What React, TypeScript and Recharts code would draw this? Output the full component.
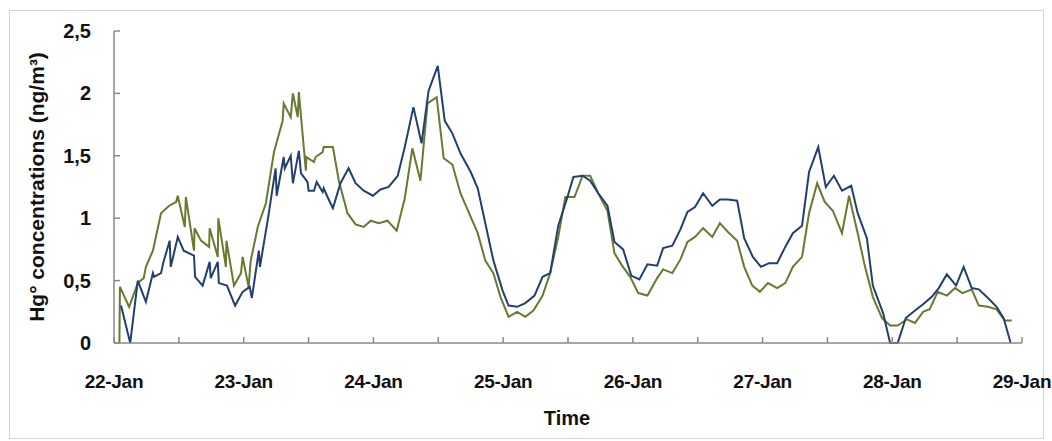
import { LineChart, Line, XAxis, YAxis } from "recharts";

// hours counted from 22-Jan 00:00
const HOUR_TICKS = [0, 12, 24, 36, 48, 60, 72, 84, 96, 108, 120, 132, 144, 156, 168];
const DAY_LABELS = ["22-Jan", "23-Jan", "24-Jan", "25-Jan", "26-Jan", "27-Jan", "28-Jan", "29-Jan"];
const Y_TICKS = [0, 0.5, 1, 1.5, 2, 2.5];

const greenHours = [
  1.0, 1.1, 2.8, 4.4, 5.5, 5.9, 7.2, 8.7, 10.2, 11.5, 11.8, 13.1, 13.3, 14.8, 14.9, 16.1,
  17.6, 17.7, 19.2, 19.3, 20.7, 20.8, 22.2, 23.5, 23.8, 24.9, 25.3, 26.6, 28.1, 29.6, 31.2,
  31.4, 32.7, 33.1, 34.0, 34.2, 35.5, 35.6, 37.0, 37.3, 38.6, 38.8, 40.5, 41.6, 43.2, 44.7,
  46.2, 47.5, 49.0, 50.6, 52.3, 53.8, 55.2, 56.7, 58.0, 59.7, 61.0, 62.6, 64.1, 66.0, 67.3,
  68.7, 70.2, 71.5, 73.0, 74.6, 76.1, 77.6, 79.3, 80.7, 82.2, 83.5, 85.2, 86.7, 88.1, 89.6,
  91.3, 92.6, 94.0, 95.5, 97.0, 98.7, 100.5, 101.6, 103.3, 104.8, 106.1, 107.5, 109.0, 110.7,
  112.1, 113.6, 115.3, 116.6, 118.1, 119.5, 121.0, 122.7, 124.2, 125.6, 127.3, 128.6, 130.1,
  131.5, 133.0, 134.7, 136.0, 137.6, 138.9, 140.4, 142.1, 143.6, 145.0, 146.7, 148.2, 149.7,
  150.9, 152.4, 154.1, 155.6, 157.0, 158.7, 160.0, 161.7, 163.3, 164.8, 166.1,
];
const greenValues = [
  0, 0.45, 0.29, 0.48, 0.52, 0.61, 0.74, 1.04, 1.1, 1.13, 1.18, 0.93, 1.17, 0.74, 0.92, 0.82,
  0.77, 0.92, 0.69, 1.0, 0.61, 0.82, 0.46, 0.56, 0.69, 0.45, 0.66, 0.93, 1.12, 1.53, 1.78,
  1.92, 1.81, 2.0, 1.81, 2.01, 1.38, 1.49, 1.45, 1.49, 1.53, 1.57, 1.57, 1.3, 1.04, 0.95,
  0.93, 0.98, 0.96, 0.98, 0.9, 1.16, 1.56, 1.3, 1.92, 1.97, 1.48, 1.43, 1.2, 1.01, 0.88,
  0.66, 0.56, 0.37, 0.21, 0.25, 0.21, 0.26, 0.38, 0.56, 0.85, 1.17, 1.17, 1.34, 1.34, 1.2,
  1.06, 0.72, 0.62, 0.53, 0.4, 0.38, 0.52, 0.59, 0.56, 0.67, 0.81, 0.85, 0.92, 0.85,
  0.96, 0.89, 0.82, 0.61, 0.46, 0.41, 0.48, 0.44, 0.48, 0.61, 0.69, 1.04, 1.28,
  1.13, 1.06, 0.88, 1.18, 0.88, 0.62, 0.37, 0.2, 0.14, 0.14, 0.19, 0.16, 0.25,
  0.27, 0.41, 0.38, 0.44, 0.4, 0.43, 0.3, 0.29, 0.27, 0.18, 0.18,
];

const blueHours = [
  1.3, 3.0, 4.4, 5.9, 7.2, 7.4, 8.7, 9.1, 10.3, 10.5, 11.8, 12.9, 14.8, 15.0, 16.4, 17.7,
  17.9, 19.2, 19.4, 20.9, 22.4, 23.8, 25.1, 25.5, 26.8, 27.0, 28.5, 29.9, 30.1, 31.4, 31.6,
  32.7, 33.1, 34.2, 34.6, 35.8, 36.0, 37.0, 37.5, 38.6, 38.8, 39.4, 40.5, 41.9, 43.4, 44.7,
  46.2, 47.9, 49.3, 50.8, 52.5, 53.8, 55.4, 56.9, 58.2, 59.9, 61.2, 62.6, 64.1, 66.0, 67.3,
  68.7, 70.2, 71.9, 73.0, 74.6, 76.1, 77.8, 79.3, 80.7, 82.2, 83.9, 85.0, 86.7, 88.1, 89.6,
  91.3, 92.6, 94.2, 95.7, 97.2, 98.7, 100.5, 101.6, 103.3, 104.8, 106.1, 107.5, 109.0, 110.7,
  112.1, 113.6, 115.3, 116.6, 118.2, 119.7, 121.2, 122.7, 124.2, 125.6, 127.3, 128.6, 130.3,
  131.7, 133.2, 134.7, 136.4, 137.6, 139.3, 140.4, 142.3, 143.6, 145.0, 146.5, 148.2, 149.7,
  151.3, 152.6, 154.1, 155.8, 157.2, 158.7, 160.0, 161.7, 163.3, 164.6, 165.9,
];
const blueValues = [
  0.3, 0, 0.5, 0.33, 0.56, 0.53, 0.56, 0.64, 0.82, 0.61, 0.85, 0.74, 0.7, 0.53, 0.46, 0.65,
  0.52, 0.65, 0.48, 0.46, 0.3, 0.41, 0.45, 0.36, 0.74, 0.61, 1.0, 1.4, 1.18, 1.49, 1.4,
  1.5, 1.28, 1.54, 1.36, 1.29, 1.22, 1.22, 1.29, 1.21, 1.24, 1.18, 1.08, 1.28, 1.4, 1.28,
  1.22, 1.18, 1.23, 1.25, 1.34, 1.57, 1.89, 1.6, 2.02, 2.22, 1.78, 1.68, 1.52, 1.37, 1.24,
  0.96, 0.66, 0.42, 0.3, 0.29, 0.32, 0.38, 0.53, 0.56, 0.94, 1.17, 1.33, 1.34, 1.3, 1.2,
  1.1, 0.81, 0.75, 0.54, 0.51, 0.63, 0.62, 0.76, 0.78, 0.91, 1.05, 1.09, 1.2, 1.1,
  1.15, 1.15, 1.14, 0.84, 0.69, 0.61, 0.64, 0.64, 0.77, 0.88, 0.94, 1.37, 1.57,
  1.25, 1.34, 1.22, 1.26, 1.04, 0.84, 0.46, 0.24, 0, 0, 0.2, 0.26, 0.31,
  0.37, 0.44, 0.55, 0.46, 0.61, 0.44, 0.43, 0.36, 0.29, 0.2, 0,
];

const greenData = greenHours.map((t, i) => ({ t, v: greenValues[i] }));
const blueData = blueHours.map((t, i) => ({ t, v: blueValues[i] }));

const AXIS_COLOR = "#8a8a8a";
const FONT = "'Liberation Sans', Arial, sans-serif";

function TimeTick({ x, y, payload }: any) {
  const h = payload.value;
  const isDay = h % 24 === 0;
  return (
    <g>
      <line x1={x} y1={y} x2={x} y2={y - 6} stroke={AXIS_COLOR} strokeWidth={1.5} />
      {isDay && (
        <text
          x={x}
          y={y + 45}
          textAnchor="middle"
          fontSize={19}
          letterSpacing={-0.3}
          fontWeight="bold"
          fill="#111"
          fontFamily={FONT}
        >
          {DAY_LABELS[h / 24]}
        </text>
      )}
    </g>
  );
}

function ValueTick({ x, y, payload }: any) {
  return (
    <g>
      <line x1={x} y1={y} x2={x + 6} y2={y} stroke={AXIS_COLOR} strokeWidth={1.5} />
      <text x={x - 23} y={y + 7} textAnchor="end" fontSize={20} fontWeight="bold" fill="#111" fontFamily={FONT}>
        {String(payload.value).replace(".", ",")}
      </text>
    </g>
  );
}

export default function App() {
  return (
    <div style={{ position: "absolute", left: 0, top: 0, width: 1052, height: 441, background: "#fff" }}>
      <div
        style={{
          position: "absolute",
          left: 9,
          top: 10,
          width: 1033,
          height: 427,
          border: "1px solid #d4d4d4",
        }}
      />
      <LineChart
        width={1052}
        height={441}
        margin={{ top: 31, right: 30, bottom: 38, left: 54 }}
        style={{ position: "absolute", left: 0, top: 0 }}
      >
        <XAxis
          type="number"
          dataKey="t"
          domain={[0, 168]}
          ticks={HOUR_TICKS}
          height={60}
          tickSize={0}
          tickMargin={0}
          tickLine={false}
          tick={<TimeTick />}
          interval={0}
          axisLine={{ stroke: AXIS_COLOR, strokeWidth: 1.5 }}
          allowDataOverflow
        />
        <YAxis
          type="number"
          domain={[0, 2.5]}
          ticks={Y_TICKS}
          width={60}
          tickSize={0}
          tickMargin={0}
          tickLine={false}
          tick={<ValueTick />}
          interval={0}
          axisLine={{ stroke: AXIS_COLOR, strokeWidth: 1.5 }}
        />
        <Line
          data={greenData}
          dataKey="v"
          type="linear"
          stroke="#677a2f"
          strokeWidth={2}
          dot={false}
          isAnimationActive={false}
        />
        <Line
          data={blueData}
          dataKey="v"
          type="linear"
          stroke="#233f70"
          strokeWidth={2}
          dot={false}
          isAnimationActive={false}
        />
      </LineChart>
      <div
        style={{
          position: "absolute",
          left: 37,
          top: 187,
          transform: "translate(-50%, -50%) rotate(-90deg)",
          whiteSpace: "nowrap",
          fontFamily: FONT,
          fontSize: 21,
          fontWeight: "bold",
          color: "#111",
        }}
      >
        Hg° concentrations (ng/m³)
      </div>
      <div
        style={{
          position: "absolute",
          left: 567,
          top: 418,
          transform: "translate(-50%, -50%)",
          fontFamily: FONT,
          fontSize: 20,
          fontWeight: "bold",
          color: "#111",
        }}
      >
        Time
      </div>
    </div>
  );
}
